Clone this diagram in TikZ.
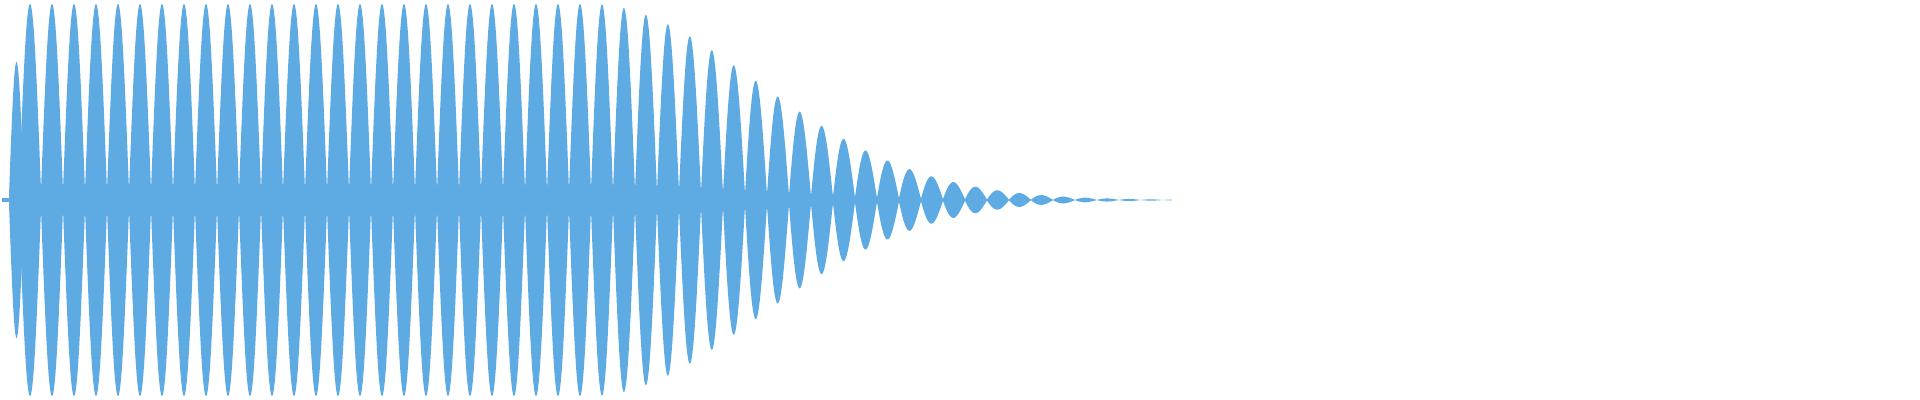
\documentclass[tikz,border=0pt]{standalone}
\begin{document}
\begin{tikzpicture}[x=0.5pt,y=0.5pt]
\definecolor{wave}{RGB}{93,171,226}
\useasboundingbox (0,0) rectangle (1920,400);
\tikzset{
  declare function={
    dd(\x)=max(\x-590,0)/235;
    env(\x)=187*exp(-dd(\x)*dd(\x));
    wv(\x)=env(\x)*abs(sin(8.181818*(\x-41))) + 9*env(\x)/187;
    fl(\x)=135*sin(12*(\x-9))+3;
  }
}
\fill[wave] (2,198) rectangle (10,202);
\fill[wave] plot[domain=9:24,samples=60] (\x,{200+fl(\x)})
  -- plot[domain=24:9,samples=60] (\x,{200-fl(\x)}) -- cycle;
\fill[wave] plot[domain=19:1172,samples=2400] (\x,{200+wv(\x)})
  -- plot[domain=1172:19,samples=2400] (\x,{200-wv(\x)}) -- cycle;
\end{tikzpicture}
\end{document}
